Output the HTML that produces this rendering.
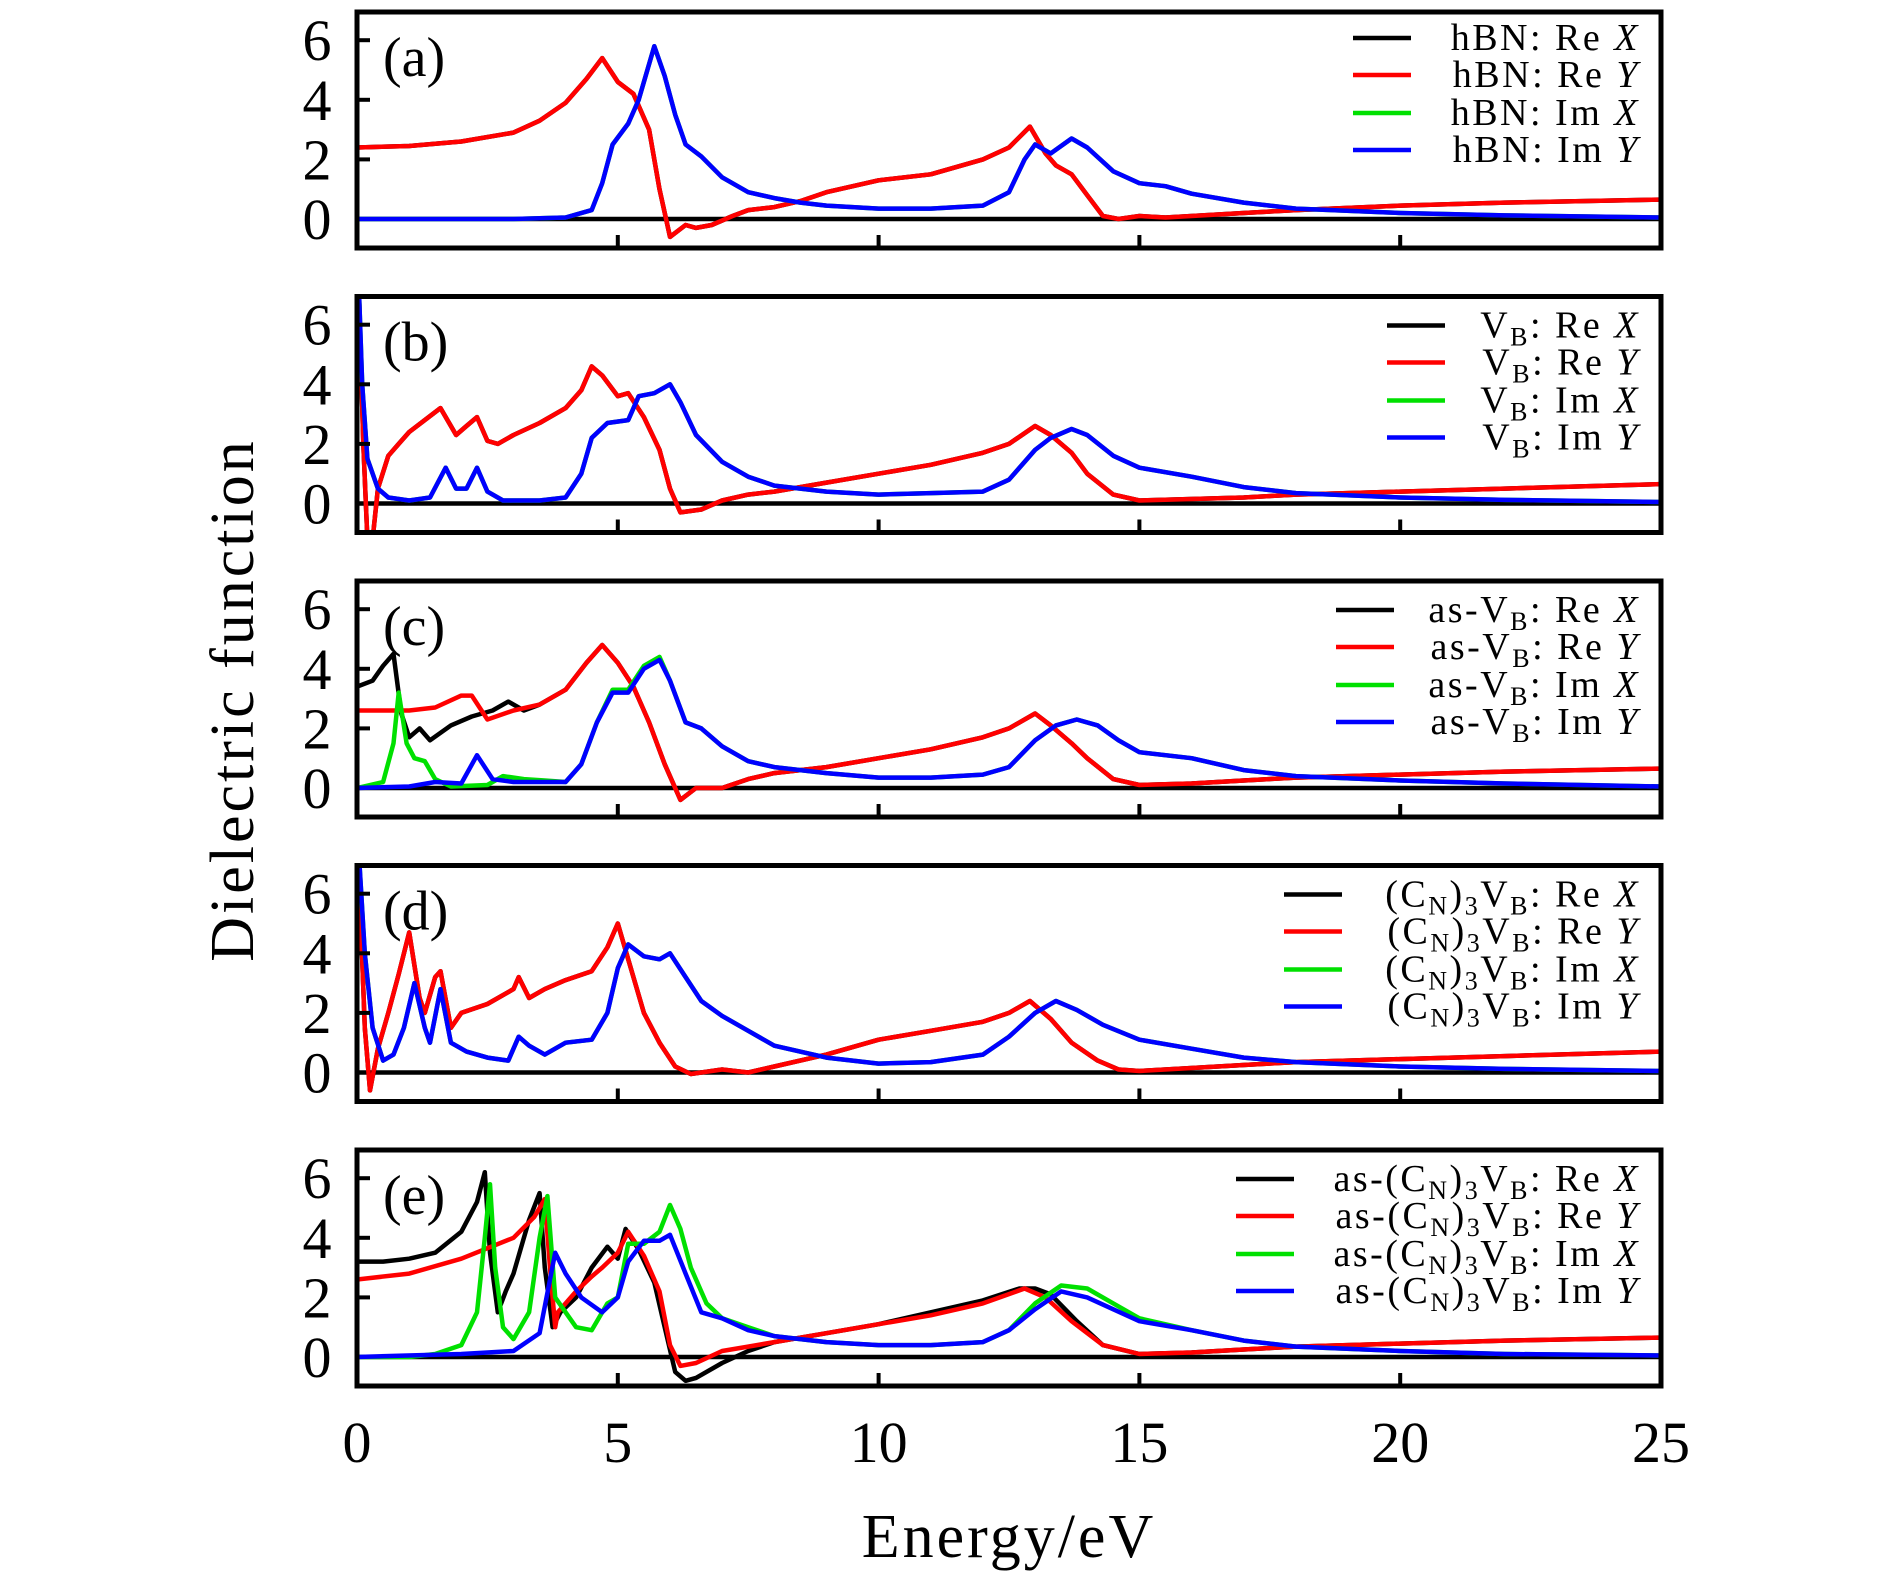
<!DOCTYPE html>
<html><head><meta charset="utf-8"><style>
html,body{margin:0;padding:0;background:#fff}
svg{display:block;font-family:"Liberation Serif",serif}
</style></head><body>
<svg id="chart" width="1890" height="1571" viewBox="0 0 1890 1571"></svg>
<script>
// x values (eV) and series values per panel
const aRe_x=[0,1,2,3,3.5,4,4.4,4.7,5.0,5.3,5.6,5.8,6.0,6.3,6.5,6.8,7.2,7.5,8,8.5,9,10,11,12,12.5,12.9,13.2,13.4,13.7,14,14.3,14.6,15,15.5,16,17,18,20,22,25];
const aRe_y=[2.4,2.45,2.6,2.9,3.3,3.9,4.7,5.4,4.6,4.2,3.0,1.0,-0.6,-0.2,-0.3,-0.2,0.1,0.3,0.4,0.6,0.9,1.3,1.5,2.0,2.4,3.1,2.2,1.8,1.5,0.8,0.1,0,0.1,0.05,0.1,0.2,0.3,0.45,0.55,0.65];
const aIm_x=[0,3,4,4.5,4.7,4.9,5.2,5.4,5.7,5.9,6.1,6.3,6.6,7,7.5,8,8.5,9,10,11,12,12.5,12.8,13.0,13.3,13.7,14,14.5,15,15.5,16,17,18,20,22,25];
const aIm_y=[0,0,0.05,0.3,1.2,2.5,3.2,4.0,5.8,4.8,3.5,2.5,2.1,1.4,0.9,0.7,0.55,0.45,0.35,0.35,0.45,0.9,2.0,2.5,2.2,2.7,2.4,1.6,1.2,1.1,0.85,0.55,0.35,0.2,0.12,0.05];

const bRe_x=[0.03,0.12,0.2,0.3,0.4,0.6,0.8,1.0,1.3,1.6,1.8,1.9,2.1,2.3,2.5,2.7,3,3.5,4,4.3,4.5,4.7,5,5.2,5.5,5.8,6,6.2,6.6,7,7.5,8,9,10,11,12,12.5,13,13.3,13.7,14,14.5,15,16,17,18,20,22,25];
const bRe_y=[7.5,2,-1.2,-1.2,0.5,1.6,2.0,2.4,2.8,3.2,2.6,2.3,2.6,2.9,2.1,2.0,2.3,2.7,3.2,3.8,4.6,4.3,3.6,3.7,2.9,1.8,0.5,-0.3,-0.2,0.1,0.3,0.4,0.7,1.0,1.3,1.7,2.0,2.6,2.3,1.7,1.0,0.3,0.1,0.15,0.2,0.3,0.4,0.5,0.65];
const bIm_x=[0.03,0.1,0.2,0.4,0.6,1,1.4,1.7,1.9,2.1,2.3,2.5,2.8,3.5,4,4.3,4.5,4.8,5.2,5.4,5.7,6.0,6.2,6.5,7,7.5,8,9,10,11,12,12.5,13,13.3,13.7,14,14.5,15,16,17,18,20,22,25];
const bIm_y=[7.5,4,1.5,0.5,0.2,0.1,0.2,1.2,0.5,0.5,1.2,0.4,0.1,0.1,0.2,1.0,2.2,2.7,2.8,3.6,3.7,4.0,3.4,2.3,1.4,0.9,0.6,0.4,0.3,0.35,0.4,0.8,1.8,2.2,2.5,2.3,1.6,1.2,0.9,0.55,0.35,0.2,0.12,0.05];

const cReX_x=[0,0.3,0.5,0.7,0.85,1.0,1.2,1.4,1.8,2.2,2.6,2.9,3.2,3.5,4,4.4,4.7,5,5.3,5.6,5.9,6.2,6.5,7,7.5,8,9,10,11,12,12.5,13,13.3,13.7,14,14.5,15,16,17,18,20,22,25];
const cReX_y=[3.4,3.6,4.1,4.5,2.5,1.7,2.0,1.6,2.1,2.4,2.6,2.9,2.6,2.8,3.3,4.2,4.8,4.2,3.4,2.2,0.8,-0.4,0,0,0.3,0.5,0.7,1.0,1.3,1.7,2.0,2.5,2.1,1.5,1.0,0.3,0.1,0.15,0.25,0.35,0.45,0.55,0.65];
const cReY_x=[0,1,1.5,2,2.2,2.5,3,3.5,4,4.4,4.7,5,5.3,5.6,5.9,6.2,6.5,7,7.5,8,9,10,11,12,12.5,13,13.3,13.7,14,14.5,15,16,17,18,20,22,25];
const cReY_y=[2.6,2.6,2.7,3.1,3.1,2.3,2.6,2.8,3.3,4.2,4.8,4.2,3.4,2.2,0.8,-0.4,0,0,0.3,0.5,0.7,1.0,1.3,1.7,2.0,2.5,2.1,1.5,1.0,0.3,0.1,0.15,0.25,0.35,0.45,0.55,0.65];
const cImX_x=[0,0.5,0.7,0.8,0.95,1.1,1.3,1.5,1.8,2.5,2.8,3.2,3.6,4,4.3,4.6,4.9,5.2,5.5,5.8,6,6.3,6.6,7,7.5,8,9,10,11,12,12.5,13,13.4,13.8,14.2,14.6,15,16,17,18,20,22,25];
const cImX_y=[0,0.2,1.5,3.2,1.5,1.0,0.9,0.3,0.05,0.1,0.4,0.3,0.25,0.2,0.8,2.2,3.3,3.3,4.1,4.4,3.6,2.2,2.0,1.4,0.9,0.7,0.5,0.35,0.35,0.45,0.7,1.6,2.1,2.3,2.1,1.6,1.2,1.0,0.6,0.4,0.25,0.15,0.05];
const cImY_x=[0,1,1.5,2,2.3,2.6,3,4,4.3,4.6,4.9,5.2,5.5,5.8,6,6.3,6.6,7,7.5,8,9,10,11,12,12.5,13,13.4,13.8,14.2,14.6,15,16,17,18,20,22,25];
const cImY_y=[0,0.05,0.2,0.15,1.1,0.3,0.2,0.2,0.8,2.2,3.2,3.2,4.0,4.3,3.6,2.2,2.0,1.4,0.9,0.7,0.5,0.35,0.35,0.45,0.7,1.6,2.1,2.3,2.1,1.6,1.2,1.0,0.6,0.4,0.25,0.15,0.05];

const dRe_x=[0.03,0.15,0.25,0.4,0.6,0.8,1.0,1.2,1.3,1.5,1.6,1.8,2,2.5,3,3.1,3.3,3.6,4,4.5,4.8,5.0,5.2,5.5,5.8,6.1,6.4,7,7.5,8,9,10,11,12,12.5,12.9,13.3,13.7,14.2,14.6,15,16,17,18,20,22,25];
const dRe_y=[7,1.5,-0.6,0.8,2.0,3.3,4.7,2.5,2.0,3.2,3.4,1.5,2.0,2.3,2.8,3.2,2.5,2.8,3.1,3.4,4.2,5.0,3.8,2.0,1.0,0.2,-0.05,0.1,0,0.2,0.6,1.1,1.4,1.7,2.0,2.4,1.8,1.0,0.4,0.1,0.05,0.15,0.25,0.35,0.45,0.55,0.7];
const dIm_x=[0.03,0.15,0.3,0.5,0.7,0.9,1.1,1.3,1.4,1.6,1.8,2.1,2.5,2.9,3.1,3.3,3.6,4,4.5,4.8,5.0,5.2,5.5,5.8,6,6.3,6.6,7,7.5,8,9,10,11,12,12.5,13,13.4,13.8,14.3,15,16,17,18,20,22,25];
const dIm_y=[7.5,4,1.5,0.4,0.6,1.5,3.0,1.5,1.0,2.8,1.0,0.7,0.5,0.4,1.2,0.9,0.6,1.0,1.1,2.0,3.5,4.3,3.9,3.8,4.0,3.2,2.4,1.9,1.4,0.9,0.5,0.3,0.35,0.6,1.2,2.0,2.4,2.1,1.6,1.1,0.8,0.5,0.35,0.2,0.12,0.05];

const eReX_x=[0,0.5,1,1.5,2,2.3,2.45,2.55,2.7,2.85,3,3.3,3.5,3.6,3.75,3.9,4.2,4.5,4.8,5.0,5.15,5.4,5.7,5.9,6.1,6.3,6.5,7,7.5,8,9,10,11,12,12.7,13,13.3,13.8,14.3,15,16,17,18,20,22,25];
const eReX_y=[3.2,3.2,3.3,3.5,4.2,5.2,6.2,3.5,1.5,2.2,2.8,4.6,5.5,3.0,1.0,1.5,2.0,3.0,3.7,3.3,4.3,3.6,2.5,1.0,-0.5,-0.8,-0.7,-0.2,0.2,0.5,0.8,1.1,1.5,1.9,2.3,2.3,2.1,1.2,0.4,0.1,0.15,0.25,0.35,0.45,0.55,0.65];
const eReY_x=[0,1,2,3,3.4,3.6,3.7,3.8,3.85,4.2,4.5,4.7,5.0,5.2,5.5,5.8,6.0,6.2,6.5,7,7.5,8,9,10,11,12,12.8,13.2,13.7,14.3,15,16,17,18,20,22,25];
const eReY_y=[2.6,2.8,3.3,4.0,4.7,5.3,3.0,1.0,1.5,2.2,2.7,3.0,3.5,4.2,3.4,2.2,0.4,-0.3,-0.2,0.2,0.35,0.5,0.8,1.1,1.4,1.8,2.3,2.0,1.2,0.4,0.1,0.15,0.25,0.35,0.45,0.55,0.65];
const eImX_x=[0,1,1.5,2,2.3,2.45,2.55,2.65,2.8,3.0,3.3,3.5,3.65,3.8,4.0,4.2,4.5,4.8,5.0,5.2,5.5,5.8,6.0,6.2,6.4,6.7,7,7.5,8,9,10,11,12,12.5,13,13.5,14,14.5,15,16,17,18,20,22,25];
const eImX_y=[0,0,0.1,0.4,1.5,4.0,5.8,3.0,1.0,0.6,1.5,4.0,5.4,2.0,1.5,1.0,0.9,1.8,2.0,3.8,3.8,4.2,5.1,4.3,3.0,1.8,1.3,1.0,0.7,0.5,0.4,0.4,0.5,0.9,1.8,2.4,2.3,1.8,1.3,0.9,0.55,0.35,0.2,0.1,0.05];
const eImY_x=[0,2,3,3.5,3.8,4.0,4.3,4.7,5.0,5.2,5.5,5.8,6.0,6.3,6.6,7,7.5,8,9,10,11,12,12.5,13,13.5,14,14.5,15,16,17,18,20,22,25];
const eImY_y=[0,0.1,0.2,0.8,3.5,2.8,2.0,1.5,2.0,3.2,3.9,3.9,4.1,2.8,1.5,1.3,0.9,0.7,0.5,0.4,0.4,0.5,0.9,1.6,2.2,2.0,1.6,1.2,0.9,0.55,0.35,0.2,0.1,0.05];

const xTicks=[0,5,10,15,20,25];
const yTicks=[0,2,4,6];
const panelLetters=['(a)','(b)','(c)','(d)','(e)'];

const NS='http://www.w3.org/2000/svg';
const svg=document.getElementById('chart');
const X0=357,X1=1661,XMIN=0,XMAX=25;
function xs(v){return X0+(v-XMIN)/(XMAX-XMIN)*(X1-X0);}
const panelTops=[12,296.5,581,865.5,1150];
const PH=236, ZOFF=207, UNIT=29.8;
function ys(top,v){return top+ZOFF-v*UNIT;}
function mk(tag,attrs,parent){const e=document.createElementNS(NS,tag);for(const k in attrs)e.setAttribute(k,attrs[k]);(parent||svg).appendChild(e);return e;}

const panels=[
 {key:'a',series:[[aRe_x,aRe_y],[aRe_x,aRe_y],[aIm_x,aIm_y],[aIm_x,aIm_y]],prefix:'hBN',lx:1353},
 {key:'b',series:[[bRe_x,bRe_y],[bRe_x,bRe_y],[bIm_x,bIm_y],[bIm_x,bIm_y]],prefix:'VB',lx:1387},
 {key:'c',series:[[cReX_x,cReX_y],[cReY_x,cReY_y],[cImX_x,cImX_y],[cImY_x,cImY_y]],prefix:'as-VB',lx:1336},
 {key:'d',series:[[dRe_x,dRe_y],[dRe_x,dRe_y],[dIm_x,dIm_y],[dIm_x,dIm_y]],prefix:'CNVB',lx:1284},
 {key:'e',series:[[eReX_x,eReX_y],[eReY_x,eReY_y],[eImX_x,eImX_y],[eImY_x,eImY_y]],prefix:'as-CNVB',lx:1236}
];
const colors=['#000000','#ff0000','#00e000','#0000ff'];
const seriesNames=['re-x','re-y','im-x','im-y'];
const legTail=[['Re','X'],['Re','Y'],['Im','X'],['Im','Y']];

function prefixSpans(t,p){
  function sub(s){const ts=mk('tspan',{'font-size':'26','baseline-shift':'-8'},t);ts.textContent=s;}
  function txt(s){const ts=mk('tspan',{},t);ts.textContent=s;}
  if(p==='hBN'){txt('hBN');}
  else if(p==='VB'){txt('V');sub('B');}
  else if(p==='as-VB'){txt('as-V');sub('B');}
  else if(p==='CNVB'){txt('(C');sub('N');txt(')');sub('3');txt('V');sub('B');}
  else {txt('as-(C');sub('N');txt(')');sub('3');txt('V');sub('B');}
}

panels.forEach((p,i)=>{
  const top=panelTops[i];
  const g=mk('g',{});
  
  
  const cp=mk('clipPath',{id:'clip'+i},g);
  mk('rect',{x:X0,y:top,width:X1-X0,height:PH},cp);
  const zl=mk('line',{x1:X0,x2:X1,y1:ys(top,0),y2:ys(top,0),stroke:'#000','stroke-width':4.5},g);
  
  
  p.series.forEach((s,k)=>{
    const pts=s[0].map((xv,j)=>xs(xv).toFixed(1)+','+ys(top,s[1][j]).toFixed(1)).join(' ');
    const pl=mk('polyline',{points:pts,fill:'none',stroke:colors[k],'stroke-width':4.5,'stroke-linejoin':'round','clip-path':'url(#clip'+i+')'},g);
    
    
  });
  const fr=mk('rect',{x:X0,y:top,width:X1-X0,height:PH,fill:'none',stroke:'#000','stroke-width':5},g);
  
  
  xTicks.forEach(t=>{
    if(t===0||t===25)return;
    const tl=mk('line',{x1:xs(t),x2:xs(t),y1:top+PH,y2:top+PH-13,stroke:'#000','stroke-width':4},g);
    
    
  });
  yTicks.forEach(t=>{
    const y=ys(top,t);
    if(t>0){const tl=mk('line',{x1:X0,x2:X0+13,y1:y,y2:y,stroke:'#000','stroke-width':4},g);
      
      }
    const tx=mk('text',{x:317,y:y+20,'font-size':58,'text-anchor':'middle'},g);
    tx.textContent=t;
    
    
  });
  const pl=mk('text',{x:383,y:top+64,'font-size':56},g);
  pl.textContent=panelLetters[i];
  
  
  const lg=mk('g',{},g);
  
  
  [26,63,101,138].forEach((dy,k)=>{
    const y=top+dy+(i===0?0:3);
    const en=mk('g',{},lg);
    
    
    mk('line',{x1:p.lx,x2:p.lx+58,y1:y,y2:y,stroke:colors[k],'stroke-width':4.5},en);
    const t=mk('text',{x:1640,y:y+12,'font-size':38,'text-anchor':'end','letter-spacing':'2.5'},en);
    prefixSpans(t,p.prefix);
    const a=mk('tspan',{},t);a.textContent=': '+legTail[k][0]+' ';
    const b=mk('tspan',{'font-style':'italic'},t);b.textContent=legTail[k][1];
  });
});
xTicks.forEach(t=>{
  const tx=mk('text',{x:xs(t),y:1462,'font-size':58,'text-anchor':'middle'});
  tx.textContent=t;
  
  
});
const xl=mk('text',{x:1009,y:1557,'font-size':62,'text-anchor':'middle','letter-spacing':'3'});
xl.textContent='Energy/eV';


const yl=mk('text',{x:0,y:0,'font-size':62,'text-anchor':'middle','letter-spacing':'3',transform:'translate(253,700) rotate(-90)'});
yl.textContent='Dielectric function';


</script>
</body></html>
